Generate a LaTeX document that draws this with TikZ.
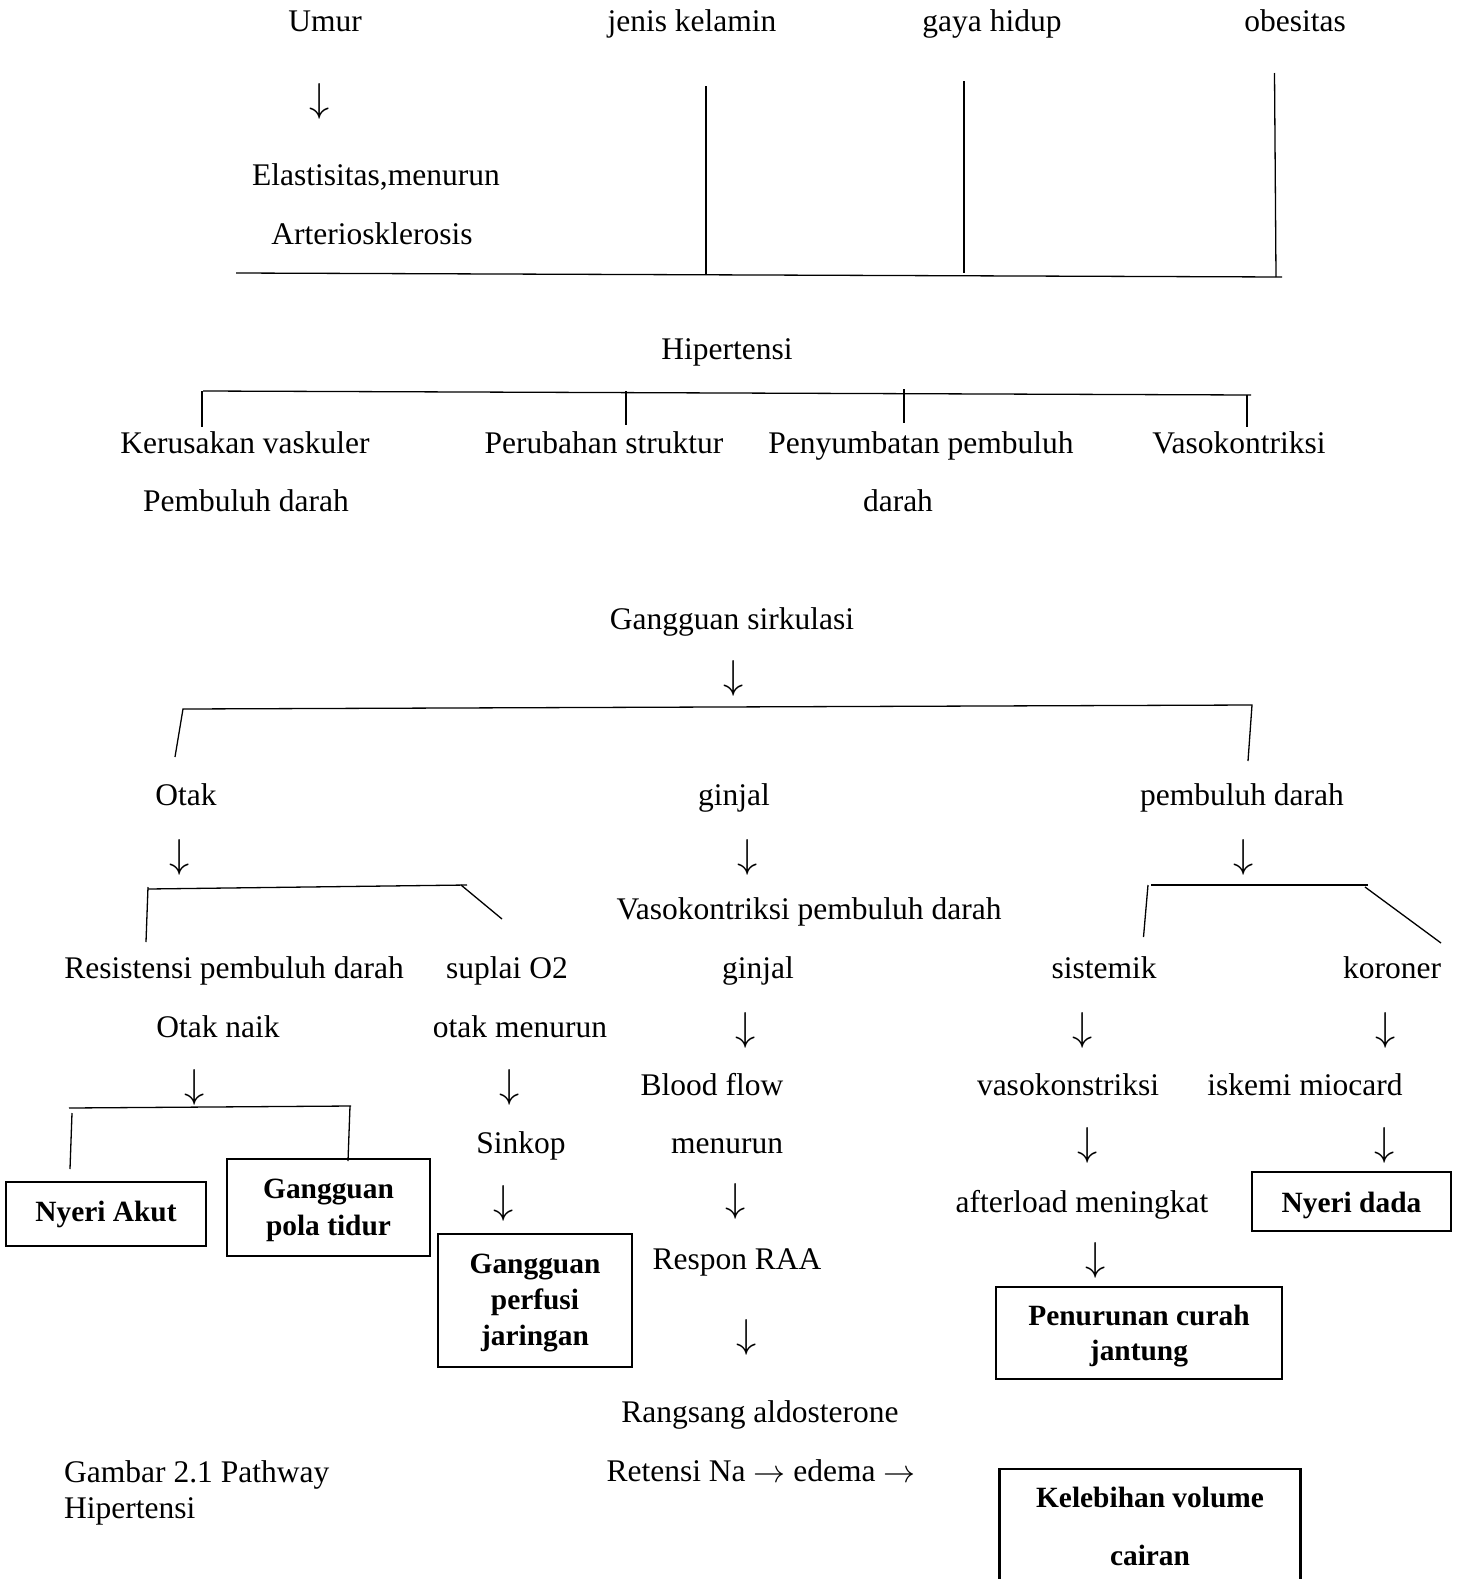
\documentclass[tikz,border=0pt]{standalone}
\usepackage{graphicx}
\usepackage{fontspec}
\setmainfont{Liberation Serif}
\newcommand{\dnarr}{\resizebox{!}{28pt}{$\downarrow$}}
\newcommand{\rtarr}{\raisebox{-1pt}{\resizebox{32pt}{!}{$\rightarrow$}}}
\begin{document}
\begin{tikzpicture}[x=1pt,y=-1pt,
  txt/.style={font=\fontsize{31.5}{38}\selectfont, inner sep=0pt, anchor=base},
  capt/.style={font=\fontsize{31.5}{38}\selectfont, inner sep=0pt, anchor=base west},
  arr/.style={inner sep=0pt, anchor=center},
  bx/.style={draw, line width=2.6pt, align=center, inner sep=0pt},
  bxtxt/.style={font=\fontsize{29.4}{36}\selectfont\bfseries, inner sep=0pt, anchor=base},
  ln/.style={line width=1.3pt},
  bxline/.style={line width=2.6pt}]
\useasboundingbox (0,0) rectangle (1461,1579);
\fill[white] (0,0) rectangle (1461,1579);

% ---- top factors
\node[txt] (umur) at (325,32) {Umur};
\node[txt] (jk) at (692,32) {jenis kelamin};
\node[txt] (gh) at (992,32) {gaya hidup};
\node[txt] (ob) at (1295,32) {obesitas};
\node[arr] (a1) at (320,101) {\dnarr};
\node[txt] (elas) at (376,185) {Elastisitas,menurun};
\node[txt] (arter) at (372,244) {Arteriosklerosis};

\coordinate (t0) at (236,273);
\coordinate (t1) at (1282,277);
\coordinate (jkt) at (706,86);  \coordinate (jkb) at (706,275);
\coordinate (ght) at (964,81);  \coordinate (ghb) at (964,273);
\coordinate (obt) at (1274.5,73); \coordinate (obb) at (1276,277);
\draw[ln] (t0) -- (t1);
\draw[ln] (jkt) -- (jkb);
\draw[ln] (ght) -- (ghb);
\draw[ln] (obt) -- (obb);

% ---- Hipertensi
\node[txt] (hip) at (727,359) {Hipertensi};
\coordinate (h0) at (203,391);
\coordinate (h1) at (1251,395);
\draw[ln] (h0) -- (h1);
\draw[ln] (202,391) coordinate (k1t) -- (202,427) coordinate (k1b);
\draw[ln] (626,391) coordinate (k2t) -- (626,425) coordinate (k2b);
\draw[ln] (904,389) coordinate (k3t) -- (904,423) coordinate (k3b);
\draw[ln] (1247,395) coordinate (k4t) -- (1247,427) coordinate (k4b);

\node[txt] (keru) at (245,453) {Kerusakan vaskuler};
\node[txt] (keru2) at (246,511) {Pembuluh darah};
\node[txt] (perub) at (604,453) {Perubahan struktur};
\node[txt] (penyu) at (921,453) {Penyumbatan pembuluh};
\node[txt] (penyu2) at (898,511) {darah};
\node[txt] (vaso) at (1239,453) {Vasokontriksi};

% ---- Gangguan sirkulasi
\node[txt] (gs) at (732,629) {Gangguan sirkulasi};
\node[arr] (a2) at (734,678) {\dnarr};
\coordinate (s0) at (183,709);
\coordinate (s1) at (1252,705);
\coordinate (sl) at (175,757);
\coordinate (sr) at (1248,761);
\draw[ln] (sl) -- (s0) -- (s1) -- (sr);

\node[txt] (otak) at (186,805) {Otak};
\node[txt] (ginjal) at (734,805) {ginjal};
\node[txt] (pd) at (1242,805) {pembuluh darah};
\node[arr] (a3) at (180,857) {\dnarr};
\node[arr] (a4) at (748,857) {\dnarr};
\node[arr] (a5) at (1244,857) {\dnarr};

% otak branch
\coordinate (o0) at (148,889);
\coordinate (o1) at (467,885);
\coordinate (ol0) at (148,887);
\coordinate (ol) at (146,942);
\coordinate (od0) at (461,885);
\coordinate (od1) at (502,919);
\draw[ln] (o0) -- (o1);
\draw[ln] (ol0) -- (ol);
\draw[ln] (od0) -- (od1);

% pembuluh darah branch
\coordinate (p0) at (1151,885);
\coordinate (p1) at (1368,885);
\coordinate (pl0) at (1148,885);
\coordinate (pl1) at (1143.5,937);
\coordinate (pd0) at (1365,887);
\coordinate (pd1) at (1441,943);
\draw[ln] (p0) -- (p1);
\draw[ln] (pl0) -- (pl1);
\draw[ln] (pd0) -- (pd1);

\node[txt] (vpd) at (809,919) {Vasokontriksi pembuluh darah};
\node[txt] (resis) at (234,978) {Resistensi pembuluh darah};
\node[txt] (suplai) at (507,978) {suplai O2};
\node[txt] (ginjal2) at (758,978) {ginjal};
\node[txt] (sist) at (1104,978) {sistemik};
\node[txt] (koro) at (1392,978) {koroner};
\node[txt] (otaknaik) at (218,1037) {Otak naik};
\node[txt] (otakmen) at (520,1037) {otak menurun};
\node[arr] (a6) at (746,1030) {\dnarr};
\node[arr] (a7) at (1083,1030) {\dnarr};
\node[arr] (a8) at (1386,1030) {\dnarr};
\node[arr] (a9) at (195,1087) {\dnarr};
\node[arr] (a10) at (510,1087) {\dnarr};

\node[txt] (blood) at (712,1095) {Blood flow};
\node[txt] (vk) at (1068,1095) {vasokonstriksi};
\node[txt] (isk) at (1305,1095) {iskemi miocard};

% otak naik branch
\coordinate (n0) at (69,1108);
\coordinate (n1) at (351,1106);
\coordinate (nl0) at (72,1113);
\coordinate (nl1) at (70,1169);
\coordinate (nr0) at (350,1106);
\coordinate (nr1) at (348,1161);
\draw[ln] (n0) -- (n1);
\draw[ln] (nl0) -- (nl1);
\draw[ln] (nr0) -- (nr1);

\node[txt] (sinkop) at (521,1153) {Sinkop};
\node[txt] (menurun) at (727,1153) {menurun};
\node[arr] (a11) at (1088,1145) {\dnarr};
\node[arr] (a12) at (1385,1145) {\dnarr};
\node[arr] (a13) at (504,1203) {\dnarr};
\node[arr] (a14) at (736,1201) {\dnarr};
\node[txt] (after) at (1082,1212) {afterload meningkat};
\node[txt] (raa) at (737,1269) {Respon RAA};
\node[arr] (a15) at (1096,1260) {\dnarr};
\node[arr] (a16) at (747,1337) {\dnarr};
\node[txt] (rang) at (760,1422) {Rangsang aldosterone};
\node[txt] (ret) at (761,1481) {Retensi Na \rtarr{} edema \rtarr};

\node[capt] (cap1) at (64,1482) {Gambar 2.1 Pathway};
\node[capt] (cap2) at (64,1518) {Hipertensi};

% ---- boxes
\node[bx, minimum width=200pt, minimum height=64pt] (b1) at (106,1214) {};
\node[bxtxt] (b1t) at (106,1221) {Nyeri Akut};

\node[bx, minimum width=203pt, minimum height=97pt] (b2) at (328.5,1207.5) {};
\node[bxtxt] (b2t1) at (328.5,1198) {Gangguan};
\node[bxtxt] (b2t2) at (328.5,1235) {pola tidur};

\node[bx, minimum width=194pt, minimum height=133pt] (b3) at (535,1300.5) {};
\node[bxtxt] (b3t1) at (535,1273) {Gangguan};
\node[bxtxt] (b3t2) at (535,1309) {perfusi};
\node[bxtxt] (b3t3) at (535,1345) {jaringan};

\node[bx, minimum width=199pt, minimum height=59pt] (b4) at (1351.5,1201.5) {};
\node[bxtxt] (b4t) at (1351.5,1212) {Nyeri dada};

\node[bx, minimum width=286pt, minimum height=92pt] (b5) at (1139,1333) {};
\node[bxtxt] (b5t1) at (1139,1325) {Penurunan curah};
\node[bxtxt] (b5t2) at (1139,1360) {jantung};

\coordinate (k5bl) at (999.5,1579);
\coordinate (k5tr) at (1300.5,1469);
\coordinate (k5br) at (1300.5,1579);
\draw[bxline] (k5bl) |- (k5tr) -- (k5br);
\node[bxtxt] (kel1) at (1150,1507) {Kelebihan volume};
\node[bxtxt] (kel2) at (1150,1565) {cairan};
\end{tikzpicture}
\end{document}
